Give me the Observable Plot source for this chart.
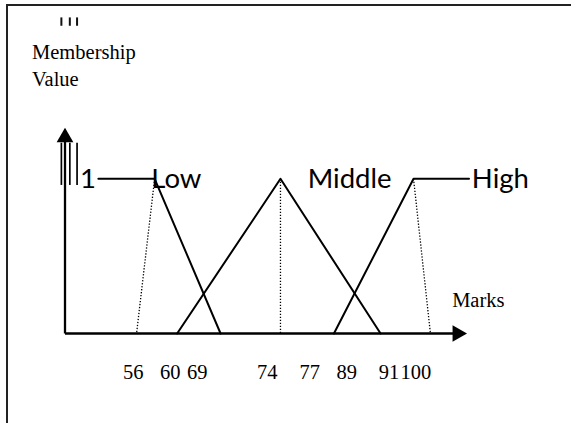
<!DOCTYPE html>
<html>
<head>
<meta charset="utf-8">
<script src="https://cdn.jsdelivr.net/npm/d3@7"></script>
<script src="https://cdn.jsdelivr.net/npm/@observablehq/plot@0.6"></script>
<style>
  html, body { margin: 0; padding: 0; background: #fff; }
  #wrap { position: relative; width: 571px; height: 423px; overflow: hidden; }
  #frame { position: absolute; left: 6px; top: 4px; right: -4px; bottom: -4px;
           border-top: 2px solid #222; border-left: 2px solid #222; pointer-events: none; }
  #wrap svg { position: absolute; left: 0; top: 0; overflow: visible; }
</style>
</head>
<body>
<div id="wrap"><div id="frame"></div></div>
<script>
// Schematic x positions (diagram units along the "Marks" axis, not to scale)
const lowX = [8.3, 22.3, 38.7];
const lowY = [1, 1, 0];
const middleX = [27.9, 53.6, 78.5];
const middleY = [0, 1, 0];
const highX = [66.9, 86.7, 100.5];
const highY = [0, 1, 1];

// dotted drop lines (from peak/shoulder down to the axis)
const dropTopX = [22.3, 53.6, 86.7];
const dropFootX = [17.8, 53.6, 90.9];

// fuzzy set names and their label positions
const setNames = ["1", "Low", "Middle", "High"];
const setLabelX = [5.7, 27.7, 70.8, 108.3];

// tick labels under the axis
const tickPositions = [17.0, 26.2, 32.9, 50.3, 60.9, 70.1, 80.6, 87.3];
const tickLabels = ["56", "60", "69", "74", "77", "89", "91", "100"];

// axis extents and labels
const xAxisEnd = 100;
const yAxisEnd = 1.33;
const yAxisLabel = "Membership\nValue";
const xAxisLabel = "Marks";

// short bar decorations near the y axis
const barX = [-0.9, 1.2, 3.0];

const pts = (xs, ys) => xs.map((x, i) => ({x, y: ys[i]}));
const serif = "'Liberation Serif', 'Times New Roman', serif";
const sans = "Lato, 'Open Sans', sans-serif";

const chart = Plot.plot({
  width: 571,
  height: 423,
  marginLeft: 64.5,
  marginRight: 104.5,
  marginTop: 178.3,
  marginBottom: 90,
  x: {type: "linear", domain: [0, 100], axis: null},
  y: {type: "linear", domain: [0, 1], axis: null},
  style: {background: "transparent", overflow: "visible"},
  marks: [
    // axes lines
    Plot.line([{x: 0, y: 0}, {x: xAxisEnd - 2, y: 0}], {x: "x", y: "y", stroke: "#000", strokeWidth: 2.3, strokeLinecap: "butt"}),
    Plot.line([{x: 0, y: 0}, {x: 0, y: yAxisEnd - 0.05}], {x: "x", y: "y", stroke: "#000", strokeWidth: 2.3, strokeLinecap: "butt"}),
    Plot.dot([{x: xAxisEnd, y: 0}], {x: "x", y: "y", symbol: "triangle", r: 6.2, rotate: 90, dx: -9.6, fill: "#000", stroke: "none"}),
    Plot.dot([{x: 0, y: yAxisEnd}], {x: "x", y: "y", symbol: "triangle", r: 6.2, dy: 9.6, fill: "#000", stroke: "none"}),
    // bar decorations
    Plot.ruleX(barX, {y1: 0.957, y2: 1.23, stroke: "#000", strokeWidth: 1.7}),
    Plot.ruleX(barX, {y1: 1.986, y2: 2.04, stroke: "#111", strokeWidth: 2}),
    // dotted drop lines
    Plot.link(dropTopX.map((x, i) => ({x1: x, x2: dropFootX[i]})), {
      x1: "x1", x2: "x2", y1: 1, y2: 0, stroke: "#000", strokeWidth: 1.3, strokeDasharray: "1.3 1.7"
    }),
    // membership functions
    Plot.line(pts(lowX, lowY), {x: "x", y: "y", stroke: "#000", strokeWidth: 2}),
    Plot.line(pts(middleX, middleY), {x: "x", y: "y", stroke: "#000", strokeWidth: 2}),
    Plot.line(pts(highX, highY), {x: "x", y: "y", stroke: "#000", strokeWidth: 2}),
    // set labels
    Plot.text(setNames.map((t, i) => ({t, x: setLabelX[i]})), {
      x: "x", y: 1, text: "t", textAnchor: "middle", lineAnchor: "middle",
      fontFamily: sans, fontSize: 27.5, fill: "#000"
    }),
    // axis titles
    Plot.text([{t: yAxisLabel}], {x: -8.2, y: 1.603, text: "t", textAnchor: "start", lineAnchor: "bottom",
      lineHeight: 1.3, fontFamily: serif, fontSize: 20.5, fill: "#000"}),
    Plot.text([{t: xAxisLabel}], {x: 96.3, y: 0.17, text: "t", textAnchor: "start", lineAnchor: "bottom",
      fontFamily: serif, fontSize: 20.5, fill: "#000"}),
    // tick labels
    Plot.axisX({
      ticks: tickPositions,
      tickFormat: d => tickLabels[tickPositions.indexOf(d)],
      tickSize: 0,
      tickPadding: 30.5,
      label: null,
      fontFamily: serif,
      fontSize: 20.5,
      fill: "#000"
    })
  ]
});
document.getElementById("wrap").insertBefore(chart, document.getElementById("frame"));
</script>
</body>
</html>
